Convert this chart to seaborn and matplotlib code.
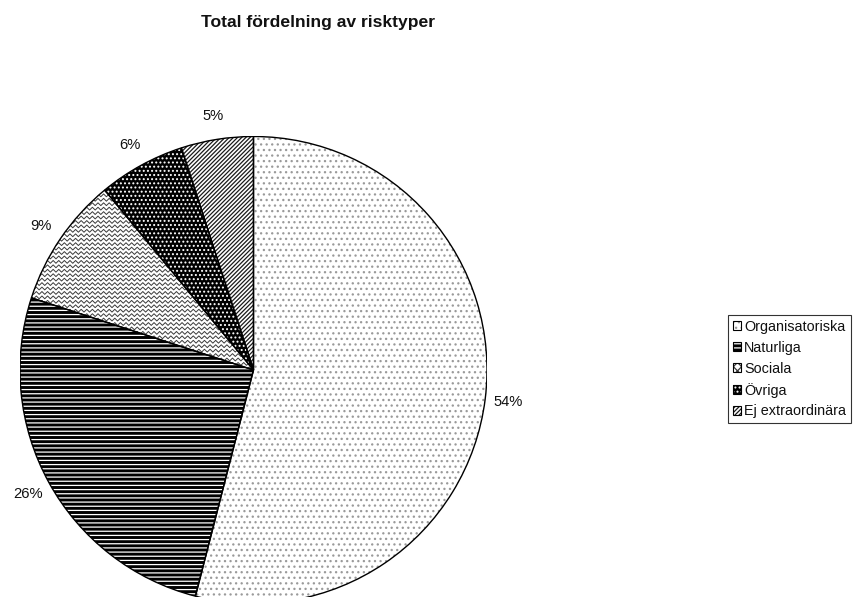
import numpy as np
import matplotlib
matplotlib.use("Agg")
import matplotlib.pyplot as plt
from matplotlib.patches import Patch, Wedge
from matplotlib.legend_handler import HandlerTuple
import seaborn as sns

# Risk type shares (percent)
categories = ["Organisatoriska", "Naturliga", "Sociala", "Övriga", "Ej extraordinära"]
shares = [54, 26, 9, 6, 5]
pct_labels = ["54%", "26%", "9%", "6%", "5%"]
title = "Total fördelning av risktyper"

sns.set_theme(style="white")
plt.rcParams["font.family"] = ["Liberation Sans", "DejaVu Sans"]
plt.rcParams["hatch.linewidth"] = 0.9

# fill colour, hatch colour, hatch pattern per slice (None -> zigzag texture)
styles = [
    ("white", "#9a9a9a", "..."),
    ("black", "white", "----"),
    ("white", "#3a3a3a", None),
    ("black", "white", "...."),
    ("white", "#1a1a1a", "////////"),
]

fig = plt.figure(figsize=(8.54, 5.97), dpi=100)
W, H = 854, 597
cx, cy, r = 253.5, 370, 233.5
ax = fig.add_axes([(cx - r) / W, (H - cy - r) / H, 2 * r / W, 2 * r / H])
ax.set_xlim(-1, 1)
ax.set_ylim(-1, 1)
ax.axis("off")

wedges, texts = ax.pie(
    shares, labels=pct_labels, startangle=90, counterclock=False,
    labeldistance=1.1, radius=1, textprops=dict(fontsize=10.6, color="#111111"),
)
ax.set_xlim(-1, 1)
ax.set_ylim(-1, 1)
for t in texts:
    t.set_ha("center")
    t.set_va("center")

for w, (fc, hc, hatch) in zip(wedges, styles):
    w.set_facecolor(fc)
    w.set_edgecolor(hc)
    w.set_linewidth(0)
    if hatch:
        w.set_hatch(hatch)
    else:
        # wavy zigzag texture clipped to the slice
        period, amp, gap = 0.024, 0.006, 0.019
        xs = np.arange(-1.05, 1.05, period / 2)
        zig = amp * np.where(np.arange(len(xs)) % 2 == 0, 1, -1)
        for y0 in np.arange(-1.0, 1.0, gap):
            ln, = ax.plot(xs, y0 + zig, color=hc, lw=0.7, zorder=w.get_zorder() + 0.1)
            ln.set_clip_path(w)
    # crisp outline on top of the fill
    ax.add_patch(Wedge(w.center, w.r, w.theta1, w.theta2, fill=False,
                       edgecolor="black", lw=1.0, zorder=w.get_zorder() + 0.5))

fig.text(318 / W, 1 - 23 / H, title, ha="center", va="center",
         fontsize=12.6, fontweight="bold", color="#111111")

handles = []
for fc, hc, hatch in styles:
    base = Patch(facecolor=fc, edgecolor=hc, lw=0, hatch=hatch if hatch else "xxxx")
    outline = Patch(fill=False, edgecolor="black", lw=0.8)
    handles.append((base, outline))

leg = fig.legend(
    handles, categories, loc="upper left",
    bbox_to_anchor=(728 / W, 1 - 315 / H), bbox_transform=fig.transFigure,
    handler_map={tuple: HandlerTuple(ndivide=1)},
    fontsize=10.4, handlelength=0.6, handleheight=0.6, handletextpad=0.2,
    labelspacing=0.48, borderpad=0.33, borderaxespad=0, fancybox=False,
    frameon=True,
)
leg.get_frame().set_edgecolor("black")
leg.get_frame().set_linewidth(0.8)
for t in leg.get_texts():
    t.set_color("#111111")

fig.savefig("out.png", dpi=100, facecolor="white")
